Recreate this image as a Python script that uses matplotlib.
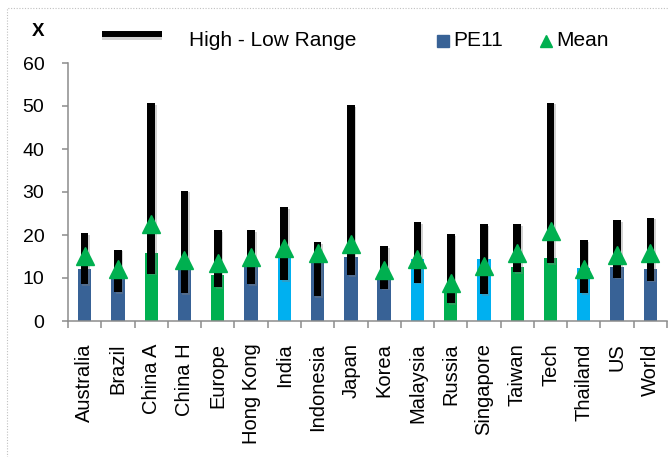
import numpy as np
import matplotlib
matplotlib.use("Agg")
import matplotlib.pyplot as plt
import matplotlib.patheffects as pe
from matplotlib.lines import Line2D
from matplotlib.patches import Rectangle

plt.rcParams['font.family'] = ['Liberation Sans', 'DejaVu Sans']

### Data: forward PE by market
markets = ['Australia', 'Brazil', 'China A', 'China H', 'Europe', 'Hong Kong',
           'India', 'Indonesia', 'Japan', 'Korea', 'Malaysia', 'Russia',
           'Singapore', 'Taiwan', 'Tech', 'Thailand', 'US', 'World']
pe11 = [12.1, 10.1, 15.8, 12.3, 10.7, 13.0, 16.3, 14.0, 14.8, 10.0,
        14.4, 6.7, 14.4, 12.6, 14.7, 12.3, 12.6, 12.2]
high = [20.4, 16.6, 50.6, 30.3, 21.2, 21.2, 26.4, 18.4, 50.2, 17.4,
        23.0, 20.2, 22.5, 22.5, 50.8, 18.8, 23.5, 24.0]
low = [8.5, 6.7, 11.0, 6.4, 7.9, 8.5, 9.5, 5.8, 10.7, 7.5,
       8.9, 4.2, 6.3, 11.3, 13.4, 6.5, 10.1, 9.4]
mean = [15.2, 12.0, 22.6, 14.2, 13.6, 14.8, 16.9, 15.7, 17.9, 11.9,
        14.5, 8.8, 12.9, 15.9, 21.0, 12.1, 15.3, 15.7]
group = ['d', 'd', 'g', 'd', 'g', 'd', 'l', 'd', 'd', 'd',
         'l', 'g', 'l', 'g', 'g', 'l', 'd', 'd']

DARK = '#386296'
LIGHT = '#00B0F0'
GREEN = '#00B050'
col_map = {'d': DARK, 'l': LIGHT, 'g': GREEN}
bar_cols = [col_map[g] for g in group]

W, H = 669, 457
fig = plt.figure(figsize=(W / 100, H / 100), dpi=100)

def fx(px):
    return px / W

def fy(py):
    return 1 - py / H

### dotted chart frame
fig.add_artist(Rectangle((fx(7), fy(470)), fx(680) - fx(7), fy(8) - fy(470),
                         transform=fig.transFigure, fill=False,
                         edgecolor='#C0C0C0', lw=0.8, ls=(0, (1, 1.5))))

ax = fig.add_axes([fx(68), fy(321), fx(667) - fx(68), fy(63) - fy(321)])

x = np.arange(len(markets))
ax.bar(x, pe11, width=0.4, color=bar_cols, zorder=2)

rng = np.array(high) - np.array(low)
ax.bar(x, rng, bottom=low, width=0.23, color='black', zorder=3,
       path_effects=[pe.SimplePatchShadow(offset=(1.2, -1.2), shadow_rgbFace='gray', alpha=0.35),
                     pe.Normal()])

ax.plot(x, mean, ls='none', marker='^', ms=13, color=GREEN, mec=GREEN, zorder=4)

ax.set_xlim(-0.5, len(markets) - 0.5)
ax.set_ylim(0, 60)
ax.set_yticks(np.arange(0, 61, 10))

ax.set_xticks(np.arange(-0.5, len(markets), 1))
ax.set_xticklabels([])
ax.set_xticks(x, minor=True)
ax.set_xticklabels(markets, minor=True, rotation=90, fontsize=14.5, va='top', ha='center')

axis_col = '#8C8C8C'
for s in ['top', 'right']:
    ax.spines[s].set_visible(False)
for s in ['left', 'bottom']:
    ax.spines[s].set_color(axis_col)
    ax.spines[s].set_linewidth(1.1)

ax.tick_params(axis='y', direction='out', length=4, width=1.1, color=axis_col,
               pad=13, labelsize=14)
ax.tick_params(axis='x', which='major', direction='out', length=5, width=1.1, color=axis_col)
ax.tick_params(axis='x', which='minor', length=0, pad=16)

### header and legend
fig.text(fx(38.5), fy(31.5), 'X', fontsize=13.5, fontweight='bold', ha='center', va='center')

fig.add_artist(Line2D([fx(102), fx(162)], [fy(34), fy(34)], transform=fig.transFigure,
                      color='black', lw=4.3, solid_capstyle='butt',
                      path_effects=[pe.SimpleLineShadow(offset=(0, -2.5), shadow_color='gray', alpha=0.35),
                                    pe.Normal()]))
fig.text(fx(189), fy(41), 'High - Low Range', fontsize=15, ha='left', va='center')

fig.add_artist(Line2D([fx(443)], [fy(41)], transform=fig.transFigure, marker='s', ms=8,
                      color=DARK, ls='none'))
fig.text(fx(453), fy(41), 'PE11', fontsize=15, ha='left', va='center')

fig.add_artist(Line2D([fx(546)], [fy(41)], transform=fig.transFigure, marker='^', ms=8,
                      color=GREEN, ls='none'))
fig.text(fx(556), fy(41), 'Mean', fontsize=15, ha='left', va='center')

fig.savefig('out.png', dpi=100)
